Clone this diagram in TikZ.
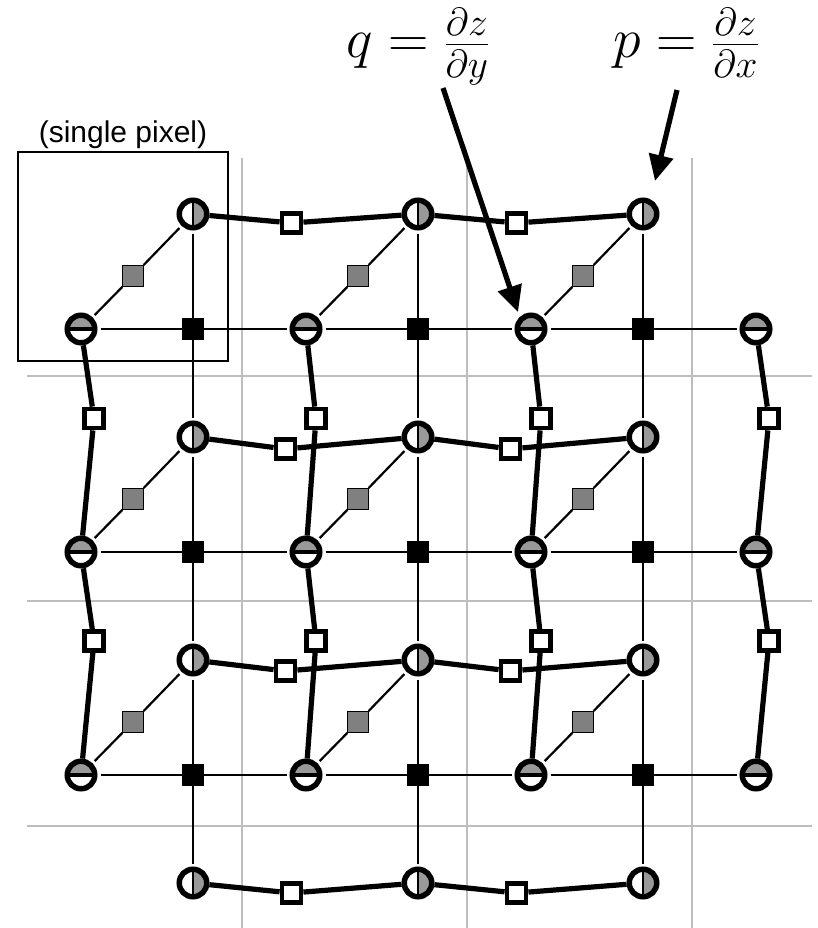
\RequirePackage{fix-cm}
\documentclass[tikz,border=0pt]{standalone}
\usepackage[no-math]{fontspec}
\newfontfamily\labelsans{Liberation Sans}
\usetikzlibrary{arrows.meta}
\definecolor{halfgray}{HTML}{999999}
\definecolor{sqgray}{HTML}{808080}
\definecolor{gridgray}{HTML}{BEBEBE}
\begin{document}
\begin{tikzpicture}[x=1pt,y=-1pt,
  vnode/.style={circle,draw,line width=5.5pt,minimum size=27.5pt,inner sep=0pt,fill=white,
    path picture={\fill[halfgray] (path picture bounding box.north) rectangle (path picture bounding box.south east);
      \draw[line width=2.3pt] (path picture bounding box.north) -- (path picture bounding box.south);}},
  hnode/.style={circle,draw,line width=5.5pt,minimum size=27.5pt,inner sep=0pt,fill=white,
    path picture={\fill[halfgray] (path picture bounding box.west) rectangle (path picture bounding box.north east);
      \draw[line width=3.5pt] (path picture bounding box.west) -- (path picture bounding box.east);}},
  blacksq/.style={rectangle,fill=black,minimum size=22pt,inner sep=0pt},
  graysq/.style={rectangle,fill=sqgray,draw,line width=1.4pt,minimum size=20.5pt,inner sep=0pt},
  whitesq/.style={rectangle,fill=white,draw,line width=4.8pt,minimum size=19pt,inner sep=0pt},
  gapline/.style={line width=2.2pt,shorten <=3pt},
  thickline/.style={line width=5.2pt},
  gridline/.style={gridgray,line width=2pt},
  arrowline/.style={line width=5.2pt,-{Triangle[length=26pt,width=24pt]}},
]
\useasboundingbox (0,0) rectangle (817,928);
% background grid of pixels
\foreach \k in {0,1,2} {
  \draw[gridline] ({242+225*\k},158) -- ({242+225*\k},928);
  \draw[gridline] (27,{376+225*\k}) -- (812,{376+225*\k});
}
% single pixel box
\node[draw,line width=1.3pt,minimum width=210pt,minimum height=209pt,inner sep=0pt] (pixbox) at (123,256.5) {};
\node[font=\labelsans\fontsize{30}{36}\selectfont,anchor=base,inner sep=0pt] (pixlabel) at (123,143) {(single pixel)};
% nodes
\foreach \i in {0,1,2} \foreach \j in {0,1,2,3}
  \node[vnode] (V\i\j) at ({193+225*\i},{214+223*\j}) {};
\foreach \i in {0,1,2,3} \foreach \j in {0,1,2}
  \node[hnode] (H\i\j) at ({81+225*\i},{329+223*\j}) {};
\foreach \i in {0,1,2} \foreach \j in {0,1,2} {
  \node[blacksq] (B\i\j) at ({193+225*\i},{329+223*\j}) {};
  \node[graysq] (G\i\j) at ({133+225*\i},{276+223*\j}) {};
}
% thin connectors
\foreach \i in {0,1,2} \foreach \j in {0,1,2} {
  \pgfmathtruncatemacro\ii{\i+1}
  \pgfmathtruncatemacro\jj{\j+1}
  \draw[gapline] (H\i\j) -- (B\i\j);
  \draw[gapline] (H\ii\j) -- (B\i\j);
  \draw[gapline] (V\i\j) -- (B\i\j);
  \draw[gapline] (V\i\jj) -- (B\i\j);
  \draw[gapline] (H\i\j) -- (G\i\j);
  \draw[gapline] (V\i\j) -- (G\i\j);
}
% thick horizontal chains (p samples)
\foreach \j/\ox/\oy in {0/14/9,1/20/12,2/20/11,3/14/10} {
  \foreach \i in {0,1} {
    \pgfmathtruncatemacro\ii{\i+1}
    \node[whitesq] (WH\i\j) at ({305.5+225*\i-\ox},{214+223*\j+\oy}) {};
    \draw[thickline] (V\i\j) -- (WH\i\j) -- (V\ii\j);
  }
}
% thick vertical chains (q samples)
\foreach \i/\ox in {0/13,1/10,2/10,3/13} \foreach \j in {0,1} {
  \pgfmathtruncatemacro\jj{\j+1}
  \node[whitesq] (WV\i\j) at ({81+225*\i+\ox},{418.5+222.5*\j}) {};
  \draw[thickline] (H\i\j) -- (WV\i\j) -- (H\i\jj);
}
% labels and arrows
\node[anchor=base,inner sep=0pt,font=\fontsize{56}{62}\selectfont] (qlab) at (418,58) {$q = \frac{\partial z}{\partial y}$};
\node[anchor=base,inner sep=0pt,font=\fontsize{56}{62}\selectfont] (plab) at (686,58) {$p = \frac{\partial z}{\partial x}$};
\coordinate (qtail) at (443,88);
\coordinate (qtip) at (518,312);
\coordinate (ptail) at (677,90);
\coordinate (ptip) at (655,181);
\draw[arrowline] (qtail) -- (qtip);
\draw[arrowline] (ptail) -- (ptip);
\end{tikzpicture}
\end{document}
